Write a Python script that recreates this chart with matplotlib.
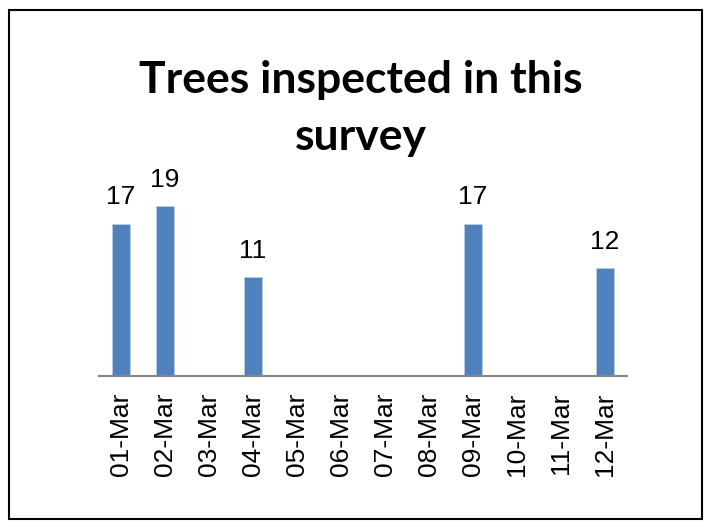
import matplotlib
matplotlib.use("Agg")
import matplotlib.pyplot as plt
from matplotlib.patches import Rectangle

# Data
dates = ["01-Mar", "02-Mar", "03-Mar", "04-Mar", "05-Mar", "06-Mar",
         "07-Mar", "08-Mar", "09-Mar", "10-Mar", "11-Mar", "12-Mar"]
trees = [17, 19, 0, 11, 0, 0, 0, 0, 17, 0, 0, 12]
title_lines = ["Trees inspected in this", "survey"]

plt.rcParams['font.family'] = ['Liberation Sans', 'DejaVu Sans']

W, H = 711, 529
fig = plt.figure(figsize=(W / 100, H / 100), dpi=100)

# outer chart border
fig.patches.append(Rectangle((9 / W, 1 - 519 / H), 693 / W, 509 / H,
                             transform=fig.transFigure, fill=False,
                             edgecolor='black', linewidth=1.5))

# plot area: baseline at y=376, 0..20 spans ~179px
left, right = 99, 627
base, top = 376, 376 - 179.4
ax = fig.add_axes([left / W, 1 - base / H, (right - left) / W, (base - top) / H])

x = range(len(dates))
ax.bar(x, trees, width=0.41, color='#4f81bd', edgecolor='#b9cde5', linewidth=0.6)
ax.set_xlim(-0.5, len(dates) - 0.5)
ax.set_ylim(0, 20)

for xi, v in zip(x, trees):
    if v > 0:
        ax.annotate(str(v), (xi, v), xytext=(0, 13.7), textcoords='offset points',
                    ha='center', va='baseline', fontsize=19)

ax.set_xticks(list(x))
ax.set_xticklabels(dates, rotation=90, fontsize=19)
ax.tick_params(axis='x', length=0, pad=12)
ax.set_yticks([])
for s in ['top', 'right', 'left']:
    ax.spines[s].set_visible(False)
ax.spines['bottom'].set_color('#868686')
ax.spines['bottom'].set_linewidth(1.5)

# title, two lines as in the original
for line, yb in zip(title_lines, [93, 150]):
    fig.text(361 / W, 1 - yb / H, line, ha='center', va='baseline',
             fontsize=32, fontweight='bold', family=['Lato', 'DejaVu Sans'])

fig.savefig("out.png", dpi=100)
